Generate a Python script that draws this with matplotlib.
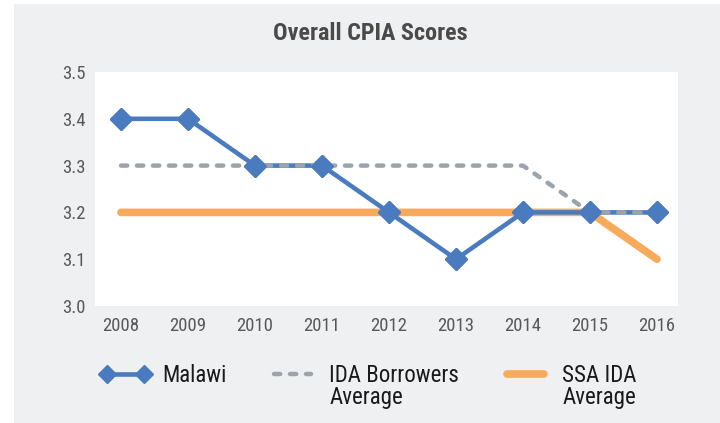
import matplotlib
matplotlib.use("Agg")
import matplotlib.pyplot as plt
from matplotlib.patches import Rectangle

years = ["2008", "2009", "2010", "2011", "2012", "2013", "2014", "2015", "2016"]
malawi = [3.4, 3.4, 3.3, 3.3, 3.2, 3.1, 3.2, 3.2, 3.2]
ida_avg = [3.3, 3.3, 3.3, 3.3, 3.3, 3.3, 3.3, 3.2, 3.2]
ssa_avg = [3.2, 3.2, 3.2, 3.2, 3.2, 3.2, 3.2, 3.2, 3.1]
yticks = [3.0, 3.1, 3.2, 3.3, 3.4, 3.5]
# legend labels: first line in the legend, second line added under it
leg_first = ["Malawi", "IDA Borrowers", "SSA IDA"]
leg_second = ["", "Average", "Average"]

plt.rcParams['font.family'] = ['Roboto Condensed', 'Liberation Sans Narrow',
                               'Roboto', 'DejaVu Sans']

blue = '#4a7bbf'
grey = '#9ba3ad'
orange = '#f8a95a'
panel = '#eff0f2'

fig = plt.figure(figsize=(7.2, 4.23), dpi=100)
fig.patch.set_facecolor('white')
fig.add_artist(Rectangle((14 / 720, 0), 1 - 14 / 720, 1 - 4 / 423,
                         transform=fig.transFigure, facecolor=panel,
                         edgecolor='none', zorder=0))

ax = fig.add_axes([95 / 720, 1 - 306 / 423, 583 / 720, 234 / 423])
ax.set_facecolor('white')

x = list(range(len(years)))
l_ssa, = ax.plot(x, ssa_avg, color=orange, lw=5.5, solid_capstyle='round', zorder=2)
l_mal, = ax.plot(x, malawi, color=blue, lw=3.3, marker='D', ms=11, zorder=3)
l_ida, = ax.plot(x, ida_avg, color=grey, lw=3.2, ls=(0, (1.4, 2.2)),
                 dash_capstyle='round', zorder=4)
# markers on top of the dashed line
ax.plot(x, malawi, color=blue, lw=0, marker='D', ms=11, zorder=5)

ax.set_xlim(-0.388, 8.313)
ax.set_ylim(3.0, 3.5)
ax.set_xticks(x)
ax.set_xticklabels(years)
ax.set_yticks(yticks)
ax.set_yticklabels([f'{v:.1f}' for v in yticks])
ax.tick_params(axis='both', length=0, labelsize=13.5, labelcolor='#595959')
ax.tick_params(axis='x', pad=8)
ax.tick_params(axis='y', pad=7)
for s in ax.spines.values():
    s.set_visible(False)

fig.text(370 / 720, 1 - 34 / 423, 'Overall CPIA Scores', ha='center',
         va='center', fontsize=17.4, fontweight='bold', color='#4a4a4a')

leg = fig.legend([l_mal, l_ida, l_ssa], leg_first,
                 ncol=3, loc='upper left', bbox_to_anchor=(100 / 720, 1 - 364 / 423),
                 frameon=False, fontsize=16.5, handlelength=2.2, numpoints=2,
                 handletextpad=0.5, columnspacing=1.8, borderpad=0,
                 borderaxespad=0, markerscale=0.85)
for t in leg.get_texts():
    t.set_color('#1a1a1a')

fig.canvas.draw()
inv = fig.transFigure.inverted()
for t, extra in zip(leg.get_texts(), leg_second):
    if not extra:
        continue
    bb = t.get_window_extent()
    x0, yc = inv.transform((bb.x0, (bb.y0 + bb.y1) / 2))
    fig.text(x0, yc - 22 / 423, extra, ha='left', va='center', fontsize=16.5,
             color='#1a1a1a')

fig.savefig('out.png', dpi=100)
